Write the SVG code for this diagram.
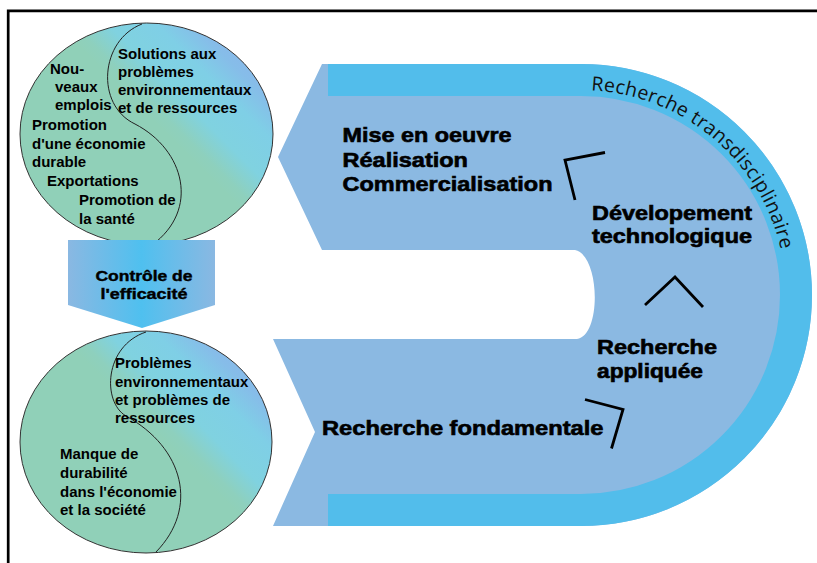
<svg xmlns="http://www.w3.org/2000/svg" width="817" height="563" viewBox="0 0 817 563">
<style>
.ct{font-family:"Liberation Sans",Arial,sans-serif;font-weight:bold;font-size:15px;fill:#000}
.bt{font-family:"Liberation Sans",Arial,sans-serif;font-weight:bold;font-size:19.5px;fill:#000;stroke:#000;stroke-width:0.6}
.at{font-family:"Liberation Sans",Arial,sans-serif;font-weight:bold;font-size:14px;fill:#000;stroke:#000;stroke-width:0.4;text-anchor:middle}
.arc{font-family:"Open Sans","Noto Sans",sans-serif;font-size:19.5px;fill:#111}
.chev{fill:none;stroke:#000;stroke-width:2.8;stroke-linejoin:miter}
.yy{fill:url(#cg);stroke:#333;stroke-width:1}
.sl{fill:none;stroke:#222;stroke-width:1}
</style>
<defs>
<linearGradient id="cg" gradientUnits="userSpaceOnUse" x1="-40" y1="-60" x2="40" y2="-140">
<stop offset="0" stop-color="#90d0b8"/>
<stop offset="0.1" stop-color="#8ed0bd"/>
<stop offset="0.32" stop-color="#80d2e0"/>
<stop offset="0.62" stop-color="#7fcfe6"/>
<stop offset="0.85" stop-color="#86bde9"/>
<stop offset="1" stop-color="#88b8ea"/>
</linearGradient>
<linearGradient id="ag" x1="0" y1="0" x2="1" y2="0">
<stop offset="0" stop-color="#8ab8e2"/>
<stop offset="0.5" stop-color="#4fc0ef"/>
<stop offset="1" stop-color="#8ab8e2"/>
</linearGradient>
<path id="arcpath" d="M 581 90 A 205 205 0 0 1 786 295"/>
</defs>

<path d="M8.2 563 V10.8 H817" fill="none" stroke="#000" stroke-width="2.7"/>

<g id="u-process">
<path fill="#8bb9e2" d="M322 64 H581 A231 231 0 0 1 581 526 H273 L315 432 L273 339 H577 C602 335 600 255 575 250 H322 L278 157 Z"/>
<path fill="none" stroke="#52bdeb" stroke-width="32" d="M328 80 H581 A215 215 0 0 1 581 510 H328"/>
<text class="arc"><textPath href="#arcpath" startOffset="10" textLength="266" lengthAdjust="spacing">Recherche transdisciplinaire</textPath></text>
</g>

<g id="stage-mise">
<text class="bt" x="342.5" y="141.5" textLength="169" lengthAdjust="spacingAndGlyphs">Mise en oeuvre</text>
<text class="bt" x="342.5" y="166.5" textLength="125.5" lengthAdjust="spacingAndGlyphs">Réalisation</text>
<text class="bt" x="342.5" y="191" textLength="210" lengthAdjust="spacingAndGlyphs">Commercialisation</text>
</g>
<g id="stage-dev">
<text class="bt" x="592" y="220" textLength="160" lengthAdjust="spacingAndGlyphs">Dévelopement</text>
<text class="bt" x="592" y="242.5" textLength="160" lengthAdjust="spacingAndGlyphs">technologique</text>
</g>
<g id="stage-appliquee">
<text class="bt" x="597" y="353.5" textLength="120" lengthAdjust="spacingAndGlyphs">Recherche</text>
<text class="bt" x="597" y="377.5" textLength="106" lengthAdjust="spacingAndGlyphs">appliquée</text>
</g>
<g id="stage-fondamentale">
<text class="bt" x="322" y="435" textLength="281.5" lengthAdjust="spacingAndGlyphs">Recherche fondamentale</text>
</g>

<g id="connectors">
<polyline class="chev" points="605,152.5 565,160 575,200"/>
<polyline class="chev" points="645,305 675,277 703,307"/>
<polyline class="chev" points="585,399.5 623,409.5 611.5,448.5"/>
</g>

<g id="circle-top">
<g transform="translate(146.5,134)">
<ellipse class="yy" cx="0" cy="0" rx="126.5" ry="111"/>
<path class="sl" d="M -4.5 -110 C -46.5 -94, -51.5 -29, -11.5 -10 C 38.5 16, 53.5 76, 5.5 111"/>
</g>
<text class="ct" x="118" y="59">Solutions aux</text>
<text class="ct" x="118" y="77">problèmes</text>
<text class="ct" x="118" y="95">environnementaux</text>
<text class="ct" x="118" y="113">et de ressources</text>
<text class="ct" x="50" y="74">Nou-</text>
<text class="ct" x="55" y="92">veaux</text>
<text class="ct" x="55" y="110">emplois</text>
<text class="ct" x="32" y="130">Promotion</text>
<text class="ct" x="32" y="149">d'une économie</text>
<text class="ct" x="32" y="167">durable</text>
<text class="ct" x="47" y="186">Exportations</text>
<text class="ct" x="79" y="205">Promotion de</text>
<text class="ct" x="79" y="224">la santé</text>
</g>

<g id="arrow-control">
<polygon fill="url(#ag)" points="68,240 215,240 215,305 142,328 68,305"/>
<text class="at" x="144" y="280.5" textLength="97" lengthAdjust="spacingAndGlyphs">Contrôle de</text>
<text class="at" x="144" y="298.5" textLength="87" lengthAdjust="spacingAndGlyphs">l'efficacité</text>
</g>

<g id="circle-bottom">
<g transform="translate(146,442)">
<ellipse class="yy" cx="0" cy="0" rx="126" ry="111"/>
<path class="sl" d="M 0 -110 C -42 -96, -44 -40, -20 -26 C 38 6, 53 66, 10 110"/>
</g>
<text class="ct" x="115" y="368">Problèmes</text>
<text class="ct" x="115" y="387">environnementaux</text>
<text class="ct" x="115" y="405">et problèmes de</text>
<text class="ct" x="115" y="423">ressources</text>
<text class="ct" x="60" y="459">Manque de</text>
<text class="ct" x="60" y="478">durabilité</text>
<text class="ct" x="60" y="497">dans l'économie</text>
<text class="ct" x="60" y="515">et la société</text>
</g>
</svg>
